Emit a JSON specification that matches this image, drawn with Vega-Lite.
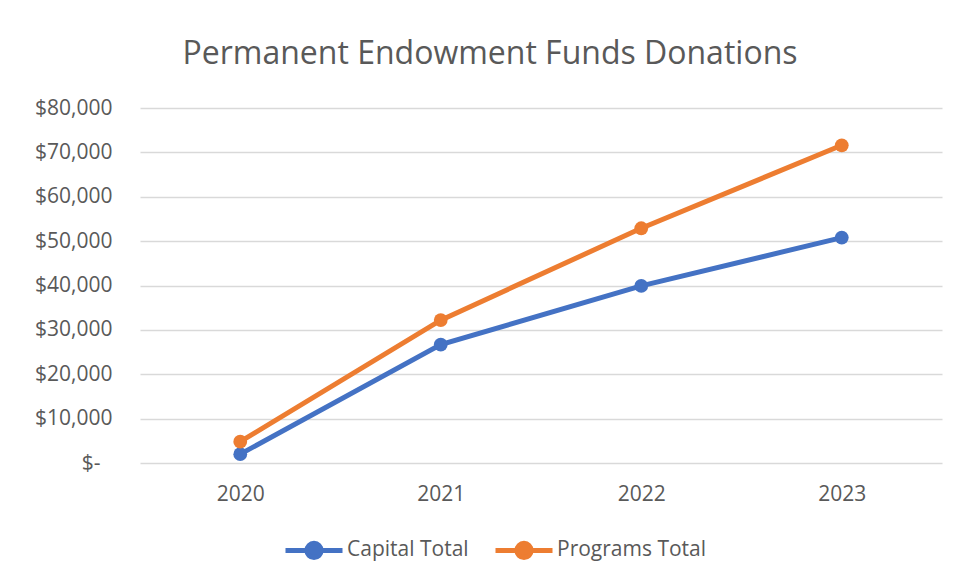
{
  "$schema": "https://vega.github.io/schema/vega-lite/v6.json",
  "autosize": "none",
  "width": 802,
  "height": 355,
  "padding": {"left": 140, "top": 108, "right": 19, "bottom": 122},
  "background": "white",
  "config": {
    "view": {"stroke": null},
    "font": "Open Sans"
  },
  "title": {
    "text": "Permanent Endowment Funds Donations",
    "font": "Open Sans",
    "fontSize": 32,
    "fontWeight": "normal",
    "color": "#595959",
    "anchor": "middle",
    "dx": -51,
    "offset": 26
  },
  "data": {
    "values": [
      {"year": "2020", "series": "Capital Total", "value": 2000},
      {"year": "2021", "series": "Capital Total", "value": 26700},
      {"year": "2022", "series": "Capital Total", "value": 39900},
      {"year": "2023", "series": "Capital Total", "value": 50800},
      {"year": "2020", "series": "Programs Total", "value": 4800},
      {"year": "2021", "series": "Programs Total", "value": 32200},
      {"year": "2022", "series": "Programs Total", "value": 52900},
      {"year": "2023", "series": "Programs Total", "value": 71600}
    ]
  },
  "mark": {"type": "line", "strokeWidth": 5, "point": {"filled": true, "size": 190, "opacity": 1}},
  "encoding": {
    "x": {
      "field": "year",
      "type": "nominal",
      "sort": null,
      "scale": {"type": "point", "padding": 0.5},
      "axis": {
        "title": null,
        "labelAngle": 0,
        "domain": false,
        "ticks": false,
        "grid": false,
        "labelPadding": 20,
        "labelFontSize": 21,
        "labelColor": "#595959",
        "labelFont": "Open Sans"
      }
    },
    "y": {
      "field": "value",
      "type": "quantitative",
      "scale": {"domain": [0, 80000], "nice": false},
      "axis": {
        "title": null,
        "values": [0, 10000, 20000, 30000, 40000, 50000, 60000, 70000, 80000],
        "domain": false,
        "ticks": false,
        "gridColor": "#D9D9D9",
        "gridWidth": 1.5,
        "labelPadding": {"condition": {"test": "datum.value == 0", "value": 40}, "value": 28},
        "labelFontSize": 21,
        "labelColor": "#595959",
        "labelFont": "Open Sans",
        "labelExpr": "datum.value == 0 ? '$-' : format(datum.value, '$,.0f')"
      }
    },
    "color": {
      "field": "series",
      "type": "nominal",
      "scale": {"domain": ["Capital Total", "Programs Total"], "range": ["#4472C4", "#ED7D31"]},
      "legend": {
        "title": null,
        "orient": "none",
        "direction": "horizontal",
        "legendX": 143,
        "legendY": 411,
        "symbolType": "M-1,0L1,0M-0.25,0A0.25,0.25,0,1,1,0.25,0A0.25,0.25,0,1,1,-0.25,0Z",
        "symbolSize": 3249,
        "symbolStrokeWidth": 5,
        "labelFontSize": 21,
        "labelColor": "#595959",
        "labelFont": "Open Sans",
        "labelOffset": 2,
        "columnPadding": 16,
        "encode": {
          "symbols": {"update": {"fill": {"scale": "color", "field": "value"}, "fillOpacity": {"value": 1}}}
        }
      }
    }
  }
}
